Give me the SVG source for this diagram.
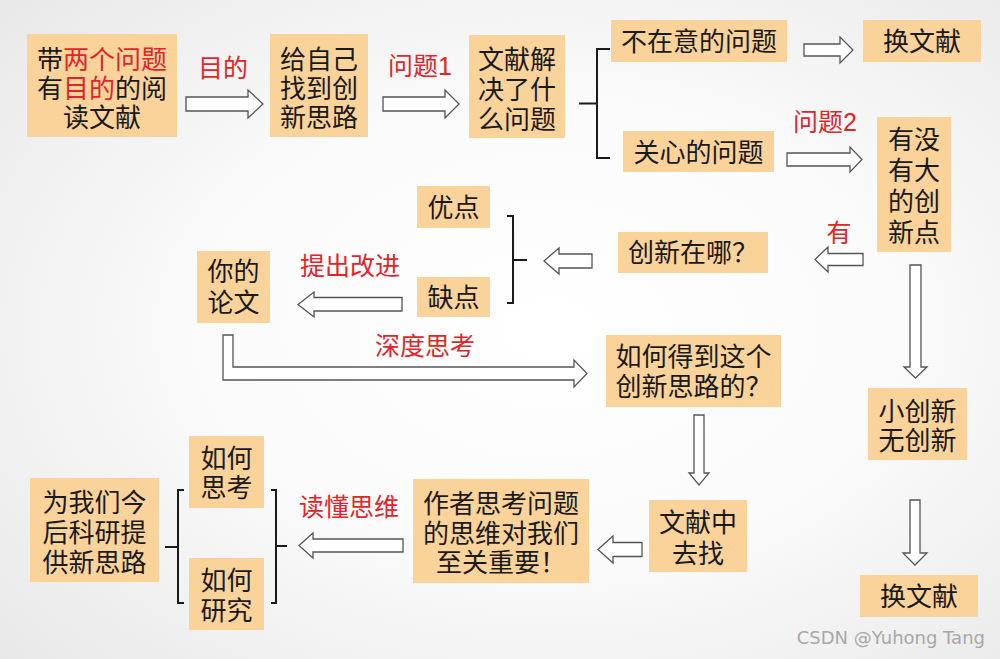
<svg xmlns="http://www.w3.org/2000/svg" width="1000" height="659" viewBox="0 0 1000 659">
<defs>
<radialGradient id="bg" cx="0.55" cy="0.5" r="0.75">
<stop offset="0" stop-color="#ffffff"/>
<stop offset="0.45" stop-color="#fbfbfb"/>
<stop offset="1" stop-color="#e8e8e8"/>
</radialGradient>
<style>
.box{fill:#fad39b}
.t{font-family:"Liberation Sans","Noto Sans CJK SC",sans-serif;font-size:26px;fill:#1a1a1a;text-anchor:middle}
.r{fill:#e0252b}
.lbl{font-family:"Liberation Sans","Noto Sans CJK SC",sans-serif;font-size:25px;fill:#e0252b;text-anchor:middle}
.arr{fill:#ffffff;stroke:#555555;stroke-width:1.3;stroke-linejoin:miter}
.br{fill:none;stroke:#1a1a1a;stroke-width:2}
.wm{font-family:"DejaVu Sans","Noto Sans CJK SC",sans-serif;font-size:18px;fill:#a8a8a8;text-anchor:end}
</style>
</defs>
<rect x="0" y="0" width="1000" height="659" fill="url(#bg)"/>

<g id="connectors">
<path class="arr" d="M186,97 L248,97 L248,90 L263,104 L248,118 L248,111 L186,111 Z"/>
<path class="arr" d="M383,97 L445,97 L445,90 L459,104 L445,118 L445,111 L383,111 Z"/>
<path class="arr" d="M804,44 L840,44 L840,37 L853,50 L840,63 L840,56 L804,56 Z"/>
<path class="arr" d="M787,153 L850,153 L850,147 L862,159.5 L850,172 L850,166 L787,166 Z"/>
<path class="arr" d="M863,253.5 L828,253.5 L828,247 L815,259.5 L828,272 L828,265.5 L863,265.5 Z"/>
<path class="arr" d="M592,254 L559,254 L559,248 L544,261 L559,274 L559,268 L592,268 Z"/>
<path class="arr" d="M402,297.5 L314,297.5 L314,292 L298,304.5 L314,317 L314,311 L402,311 Z"/>
<path class="arr" d="M223,335 L233,335 L233,367 L574,367 L574,360 L587,373.5 L574,387 L574,380 L223,380 Z"/>
<path class="arr" d="M694,415 L704,415 L704,473 L709,473 L699,485 L689,473 L694,473 Z"/>
<path class="arr" d="M910,265 L921,265 L921,367 L927,367 L915.5,378 L904,367 L910,367 Z"/>
<path class="arr" d="M910,500 L920,500 L920,553 L927,553 L915,565 L903,553 L910,553 Z"/>
<path class="arr" d="M642,542.5 L613,542.5 L613,536 L598,549.5 L613,563 L613,556.5 L642,556.5 Z"/>
<path class="arr" d="M403,539 L313,539 L313,533 L299,545.5 L313,558 L313,552 L403,552 Z"/>
<path class="br" d="M610,49 L597,49 L597,158 L610,158 M579,103.5 L597,103.5"/>
<path class="br" d="M507,216 L513,216 L513,303 L507,303 M513,260 L527,260"/>
<path class="br" d="M271,490 L276,490 L276,603 L271,603 M276,546 L287,546"/>
<path class="br" d="M184,490 L178,490 L178,603 L184,603 M165,547 L178,547"/>
<text class="lbl" x="223" y="77">目的</text>
<text class="lbl" x="420" y="75">问题1</text>
<text class="lbl" x="825" y="131">问题2</text>
<text class="lbl" x="839" y="242">有</text>
<text class="lbl" x="350" y="275">提出改进</text>
<text class="lbl" x="425" y="355">深度思考</text>
<text class="lbl" x="349" y="516">读懂思维</text>
</g>

<g id="n1"><rect class="box" x="27" y="34" width="150" height="103"/>
<text class="t" x="102" y="69">带<tspan class="r">两个问题</tspan></text>
<text class="t" x="102" y="98">有<tspan class="r">目的</tspan>的阅</text>
<text class="t" x="102" y="127">读文献</text></g>

<g id="n2"><rect class="box" x="270" y="34" width="98" height="103"/>
<text class="t" x="319" y="69">给自己</text>
<text class="t" x="319" y="98">找到创</text>
<text class="t" x="319" y="127">新思路</text></g>

<g id="n3"><rect class="box" x="469" y="35" width="96" height="103"/>
<text class="t" x="517" y="69">文献解</text>
<text class="t" x="517" y="99">决了什</text>
<text class="t" x="517" y="129">么问题</text></g>

<g id="n4"><rect class="box" x="611" y="20" width="176" height="42"/>
<text class="t" x="699" y="51">不在意的问题</text></g>

<g id="n5"><rect class="box" x="863" y="20" width="118" height="42"/>
<text class="t" x="922" y="51">换文献</text></g>

<g id="n6"><rect class="box" x="623" y="131" width="151" height="41"/>
<text class="t" x="698.5" y="162">关心的问题</text></g>

<g id="n7"><rect class="box" x="877" y="117" width="74" height="135"/>
<text class="t" x="914" y="149">有没</text>
<text class="t" x="914" y="180">有大</text>
<text class="t" x="914" y="211">的创</text>
<text class="t" x="914" y="242">新点</text></g>

<g id="n8"><rect class="box" x="618" y="232" width="150" height="41"/>
<text class="t" x="693" y="262">创新在哪？</text></g>

<g id="n9"><rect class="box" x="417" y="186" width="73" height="42"/>
<text class="t" x="453.5" y="217">优点</text></g>

<g id="n10"><rect class="box" x="417" y="277" width="73" height="40"/>
<text class="t" x="453.5" y="307">缺点</text></g>

<g id="n11"><rect class="box" x="197" y="251" width="73" height="72"/>
<text class="t" x="233.5" y="281">你的</text>
<text class="t" x="233.5" y="312">论文</text></g>

<g id="n12"><rect class="box" x="606" y="335" width="175" height="72"/>
<text class="t" x="693.5" y="366">如何得到这个</text>
<text class="t" x="693.5" y="396">创新思路的？</text></g>

<g id="n13"><rect class="box" x="868" y="388" width="99" height="72"/>
<text class="t" x="917.5" y="421">小创新</text>
<text class="t" x="917.5" y="450">无创新</text></g>

<g id="n14"><rect class="box" x="860" y="575" width="118" height="42"/>
<text class="t" x="919" y="606">换文献</text></g>

<g id="n15"><rect class="box" x="649" y="500" width="98" height="72"/>
<text class="t" x="698" y="532">文献中</text>
<text class="t" x="698" y="563">去找</text></g>

<g id="n16"><rect class="box" x="413" y="479" width="176" height="104"/>
<text class="t" x="501" y="513">作者思考问题</text>
<text class="t" x="501" y="543">的思维对我们</text>
<text class="t" x="501" y="572">至关重要！</text></g>

<g id="n17"><rect class="box" x="189" y="436" width="75" height="72"/>
<text class="t" x="226.5" y="468">如何</text>
<text class="t" x="226.5" y="497">思考</text></g>

<g id="n18"><rect class="box" x="189" y="558" width="75" height="72"/>
<text class="t" x="226.5" y="590">如何</text>
<text class="t" x="226.5" y="620">研究</text></g>

<g id="n19"><rect class="box" x="30" y="478" width="129" height="104"/>
<text class="t" x="94.5" y="512">为我们今</text>
<text class="t" x="94.5" y="542">后科研提</text>
<text class="t" x="94.5" y="572">供新思路</text></g>

<text class="wm" x="985" y="644">CSDN @Yuhong Tang</text>
</svg>
